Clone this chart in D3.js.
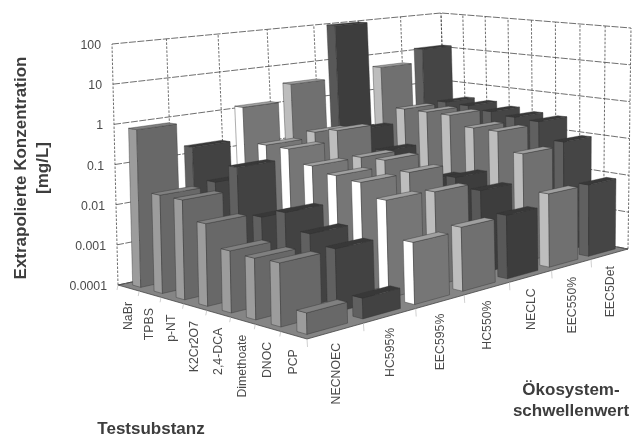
<!DOCTYPE html>
<html><head><meta charset="utf-8">
<script src="https://cdnjs.cloudflare.com/ajax/libs/d3/7.8.5/d3.min.js"></script>
<style>html,body{margin:0;padding:0;background:#fff}text{font-family:"Liberation Sans",Arial,sans-serif}</style>
</head><body><svg id="c" width="633" height="437"></svg>
<script>
const substances=["NaBr","TPBS","p-NT","K2Cr2O7","2,4-DCA","Dimethoate","DNOC","PCP"];
const thresholds=["NECNOEC","HC595%","EEC595%","HC550%","NECLC","EEC550%","EEC5Det"];
const yTicks=[100,10,1,0.1,0.01,0.001,0.0001];
const yTickLabels=["100","10","1","0.1","0.01","0.001","0.0001"];
const NECNOEC=[.8,.025,.025,.009,.0028,.0026,.0028,.0003];
const HC595=[.18,.03,.09,.007,.012,.005,.003,.0003];
const EEC595=[1.25,.16,.16,.075,.055,.048,.023,.003];
const HC550=[3.5,.22,.3,.075,.08,.05,.021,.0037];
const NECLC=[100,.17,.055,.015,.015,.022,.013,.004];
const EEC550=[5,.4,.4,.4,.22,.22,.07,.008];
const EEC5Det=[12,.42,.4,.33,.28,.26,.09,.008];
const seriesValues=[NECNOEC,HC595,EEC595,HC550,NECLC,EEC550,EEC5Det];
const sideColors=["#9c9c9c","#606060","#ffffff","#bdbdbd","#585858","#bdbdbd","#606060"];
const frontColors=["#686868","#424242","#767676","#707070","#3c3c3c","#707070","#444444"];
const topColors=["#808080","#383838","#a0a0a0","#a0a0a0","#383838","#a0a0a0","#383838"];

function quad(p){
  const [[x0,y0],[x1,y1],[x2,y2],[x3,y3]]=p;
  const dx1=x1-x2,dx2=x3-x2,sx=x0-x1+x2-x3,dy1=y1-y2,dy2=y3-y2,sy=y0-y1+y2-y3;
  const d=dx1*dy2-dx2*dy1,g=(sx*dy2-dx2*sy)/d,h=(dx1*sy-sx*dy1)/d;
  const a=x1-x0+g*x1,b=x3-x0+h*x3,c=x0,e=y1-y0+g*y1,f=y3-y0+h*y3,k=y0;
  return (u,v)=>{const w=g*u+h*v+1;return [(a*u+b*v+c)/w,(e*u+f*v+k)/w];};
}
const floorQ=quad([[118,285],[307,339],[628,249],[447,214]]);
const topQ=quad([[112,44],[302,66],[631,28],[441,13]]);
const z=d3.scaleLog().domain([0.0001,100]).range([0,1]);
const P=(u,v,t)=>{const a=floorQ(u,v),b=topQ(u,v);return [a[0]+(b[0]-a[0])*t,a[1]+(b[1]-a[1])*t];};
const iBand=d3.scaleBand().domain(substances).range([0,1]).paddingInner(.62).paddingOuter(.31);
const jBand=d3.scaleBand().domain(thresholds).range([0,1]).paddingInner(.28).paddingOuter(.14);
const line=d3.line();
const svg=d3.select("#c");
const defs=svg.append("defs");
defs.append("filter").attr("id","soft").attr("x","-5%").attr("y","-5%").attr("width","110%").attr("height","110%")
  .append("feGaussianBlur").attr("stdDeviation",.55);
const g=svg.append("g").attr("filter","url(#soft)");

g.append("path").attr("d",line([P(0,0,0),P(1,0,0),P(1,1,0),P(0,1,0)])+"Z").attr("fill","#858585").attr("stroke","#444").attr("stroke-width",.8);
const grid=g.append("g").attr("fill","none").attr("stroke","#4a4a4a").attr("stroke-width",.8);
yTicks.forEach(y=>{const t=z(y);
  grid.append("path").attr("d",line([P(0,0,t),P(0,1,t),P(1,1,t)])).attr("stroke-dasharray","7 1.5");});
thresholds.concat([""]).forEach((_,k)=>{const v=k/thresholds.length;
  grid.append("path").attr("d",line([P(0,v,0),P(0,v,1)])).attr("stroke-dasharray","2.5 1.5");});
substances.concat([""]).forEach((_,k)=>{const u=k/substances.length;
  grid.append("path").attr("d",line([P(u,1,0),P(u,1,1)])).attr("stroke-dasharray","2.5 1.5");});

substances.forEach((s,i)=>{
  for(let j=thresholds.length-1;j>=0;j--){
    const val=seriesValues[j][i], t=z(val);
    const u0=iBand(s),u1=u0+iBand.bandwidth(),v0=jBand(thresholds[j]),v1=v0+jBand.bandwidth();
    const b=g.append("g").attr("stroke","#333").attr("stroke-width",.4).attr("stroke-linejoin","round");
    b.append("path").attr("d",line([P(u0,v0,0),P(u1,v0,0),P(u1,v0,t),P(u0,v0,t)])+"Z").attr("fill",sideColors[j]);
    b.append("path").attr("d",line([P(u1,v0,0),P(u1,v1,0),P(u1,v1,t),P(u1,v0,t)])+"Z").attr("fill",frontColors[j]);
    b.append("path").attr("d",line([P(u0,v0,t),P(u1,v0,t),P(u1,v1,t),P(u0,v1,t)])+"Z").attr("fill",topColors[j]);
  }
});
const ticks=g.append("g").attr("stroke","#bbb").attr("stroke-width",.7);
substances.forEach((s,k)=>{const a=P(k/8,0,0);ticks.append("line").attr("x1",a[0]).attr("y1",a[1]).attr("x2",a[0]-1).attr("y2",a[1]+5);});
thresholds.forEach((s,k)=>{const a=P(1,k/7,0);ticks.append("line").attr("x1",a[0]).attr("y1",a[1]).attr("x2",a[0]+.5).attr("y2",a[1]+8);});

const tx=g.append("g").attr("fill","#4a4a4a").attr("font-size",12.3);
yTicks.forEach((y,k)=>{const p=P(0,0,z(y));
  tx.append("text").attr("x",p[0]-11).attr("y",p[1]+5).attr("text-anchor","end").text(yTickLabels[k]);});
substances.forEach(s=>{const p=P(iBand(s)+iBand.bandwidth()/2,0,0);
  tx.append("text").attr("transform",`translate(${p[0]+3},${p[1]+14}) rotate(-90)`).attr("text-anchor","end").text(s);});
thresholds.forEach(s=>{const p=P(1,jBand(s)+jBand.bandwidth()/2,0);
  tx.append("text").attr("transform",`translate(${p[0]+4},${p[1]+12}) rotate(-90)`).attr("text-anchor","end").text(s);});

const bold=g.append("g").attr("fill","#3c3c3c").attr("font-size",17).attr("font-weight","bold").attr("text-anchor","middle");
bold.append("text").attr("transform","translate(26,168) rotate(-90)").text("Extrapolierte Konzentration");
bold.append("text").attr("transform","translate(48,168) rotate(-90)").text("[mg/L]");
bold.append("text").attr("x",151).attr("y",434).text("Testsubstanz");
bold.append("text").attr("x",571).attr("y",395).text("Ökosystem-");
bold.append("text").attr("x",571).attr("y",416).text("schwellenwert");
</script></body></html>
